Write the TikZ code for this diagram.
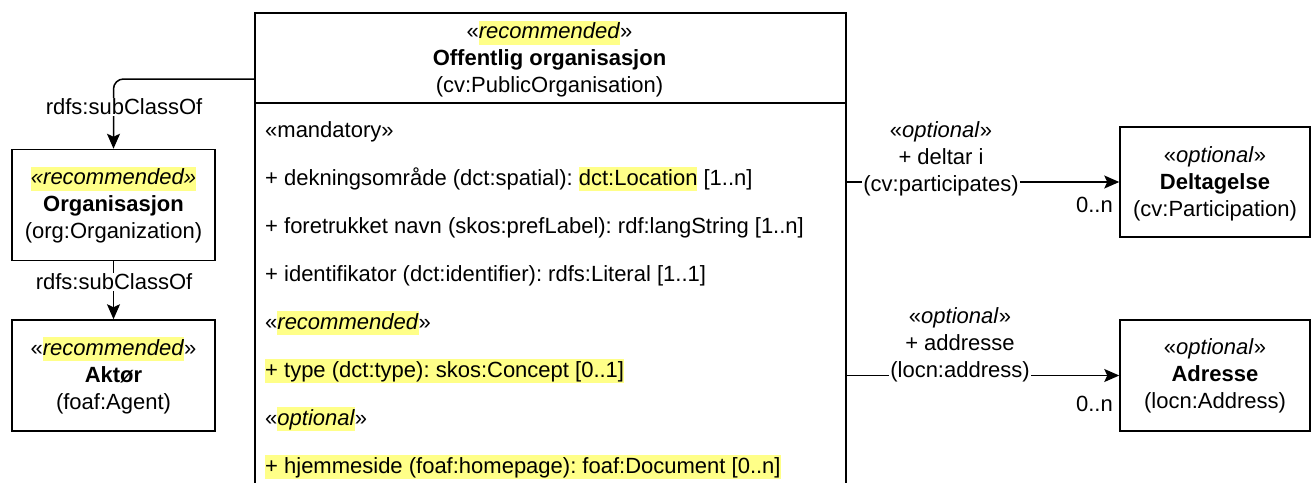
\documentclass[tikz,border=0pt]{standalone}
\usepackage{fontspec}
\setmainfont{Liberation Sans}
\usepackage{xcolor}
\usepackage{tikz}
\usetikzlibrary{positioning}
\usetikzlibrary{arrows.meta}
\usetikzlibrary{calc}
\definecolor{hlyellow}{RGB}{255,255,136}
\newcommand{\hl}[1]{{\setlength{\fboxsep}{0pt}\colorbox{hlyellow}{\rule[-6pt]{0pt}{24pt}#1}}}
\frenchspacing
\tikzset{
  cls/.style={draw, line width=1.5pt, align=center, inner sep=0pt, minimum height=111pt},
  attr/.style={anchor=base west, inner sep=0pt},
  lbl/.style={fill=white, align=center, inner sep=1pt},
  mult/.style={anchor=east, inner sep=0pt},
  conn/.style={line width=1.5pt, -{Stealth[length=15pt,width=13pt,inset=3pt]}}
}

\begin{document}
\begin{tikzpicture}[x=1pt, y=-1pt, font=\fontsize{22pt}{27pt}\selectfont]
  \useasboundingbox (0,0) rectangle (1312,482);
  \clip (0,0) rectangle (1312,482);
  \node[draw, line width=1.5pt, anchor=north west, inner sep=0pt, minimum width=591pt, minimum height=520pt] (offorg) at (254,12) {};
  \node[align=center] (offhead) at (549.5,59) {«\hl{\textit{recommended}}»\\\textbf{Offentlig organisasjon}\\(cv:PublicOrganisation)};
  \draw[line width=1.5pt] ([yshift=-91pt]offorg.north west) -- ([yshift=-91pt]offorg.north east);
  \foreach \txt [count=\i] in {{«mandatory»},
      {+ dekningsområde (dct:spatial): \hl{dct:Location} [1..n]},
      {+ foretrukket navn (skos:prefLabel): rdf:langString [1..n]},
      {+ identifikator (dct:identifier): rdfs:Literal [1..1]},
      {«\hl{\textit{recommended}}»},
      {\hl{+ type (dct:type): skos:Concept [0..1]}},
      {«\hl{\textit{optional}}»},
      {\hl{+ hjemmeside (foaf:homepage): foaf:Document [0..n]}}}
    \node[attr] (attr\i) at (265,89+48*\i) {\txt};

  \node[cls, minimum width=203pt] (orgn) at (113.5,205) {\hl{\textit{«recommended»}}\\\textbf{Organisasjon}\\(org:Organization)};
  \node[cls, minimum width=203pt] (aktor) at (113.5,375.5) {«\hl{\textit{recommended}}»\\\textbf{Aktør}\\(foaf:Agent)};
  \node[cls, minimum width=190pt, minimum height=110pt] (delt) at (1215,182) {};
  \node[align=center] (delttxt) at (1215,184) {«\textit{optional}»\\\textbf{Deltagelse}\\(cv:Participation)};
  \node[cls, minimum width=190pt] (adr) at (1215,375.5) {«\textit{optional}»\\\textbf{Adresse}\\(locn:Address)};

  \draw[conn, rounded corners=10pt] ([yshift=-67pt]offorg.north west) -| (orgn.north);
  \node[lbl] (sub1) at (124,107) {rdfs:subClassOf};
  \draw[conn] (orgn.south) -- (aktor.north);
  \node[lbl] (sub2) at (114,282) {rdfs:subClassOf};

  \draw[conn] (offorg.east |- delt.west) -- (delt.west);
  \node[lbl] (deltlbl) at (941,159) {«\textit{optional}»\\+ deltar i\\(cv:participates)};
  \node[mult] (deltm) at (1113,205) {0..n};
  \draw[conn] (offorg.east |- adr.west) -- (adr.west);
  \node[lbl] (adrlbl) at (960,345) {«\textit{optional}»\\+ addresse\\(locn:address)};
  \node[mult] (adrm) at (1113,404) {0..n};
\end{tikzpicture}
\end{document}
